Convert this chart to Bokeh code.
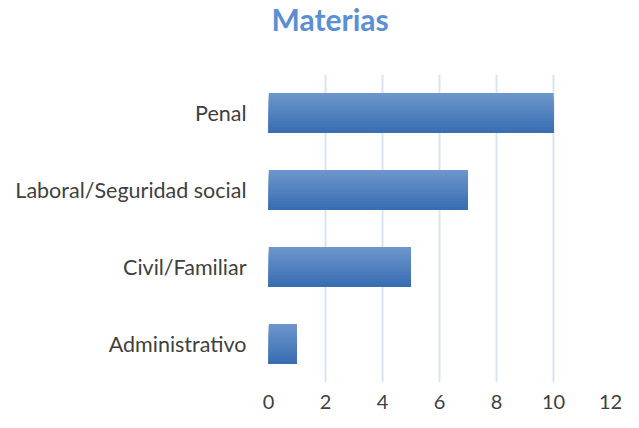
from bokeh.plotting import figure
from bokeh.models import FactorRange, Range1d
from bokeh.transform import dodge
from bokeh.embed import file_html
from bokeh.resources import INLINE

categories = ["Administrativo", "Civil/Familiar", "Laboral/Seguridad social", "Penal"]
values = [1, 5, 7, 10]
x_ticks = [0, 2, 4, 6, 8, 10, 12]
title_text = "Materias"

p = figure(width=623, height=412, output_backend="svg", toolbar_location=None,
           y_range=FactorRange(*categories, range_padding=0),
           x_range=Range1d(0, 12),
           min_border_left=268, min_border_right=13, min_border_top=70, min_border_bottom=30)

# gradient bars: overlapping pieces, each reaching the bar bottom (top lighter -> bottom darker)
bar_h = 0.52
n = 14
top = (0x6C, 0x95, 0xCB)
bot = (0x39, 0x6E, 0xB2)
strip = bar_h / n
src = {"cat": categories, "val": values}
for i in range(n):
    t = i / (n - 1)
    c = tuple(int(round(top[k] + (bot[k] - top[k]) * t)) for k in range(3))
    col = "#%02x%02x%02x" % c
    h = bar_h - i * strip
    off = -i * strip / 2
    p.hbar(y=dodge("cat", off, range=p.y_range), right="val", left=0, height=h,
           source=src, fill_color=col, line_color=None)

# a trailing blank line reserves space between the title and the plot area
p.title.text = title_text + "\n"
p.title.text_font = "Lato"
p.title.text_font_size = "30px"
p.title.text_font_style = "bold"
p.title.text_color = "#5B8FD5"
p.title.text_line_height = 1.0
p.title.align = "left"
p.title.offset = 3
p.title.standoff = 0
p.title.vertical_align = "top"

p.xaxis.ticker = x_ticks
p.xgrid.grid_line_color = "#D9E4F2"
p.xgrid.grid_line_width = 2
p.ygrid.grid_line_color = None
p.outline_line_color = None

for ax in (p.xaxis[0], p.yaxis[0]):
    ax.axis_line_color = None
    ax.major_tick_line_color = None
    ax.minor_tick_line_color = None
    ax.major_label_text_font = "Lato"
    ax.major_label_text_color = "#404040"

p.xaxis.major_label_text_font_size = "20px"
p.xaxis.major_label_standoff = 6
p.yaxis.major_label_text_font_size = "21.5px"
p.yaxis.major_label_standoff = 16

open("out.html", "w").write(file_html(p, INLINE))
